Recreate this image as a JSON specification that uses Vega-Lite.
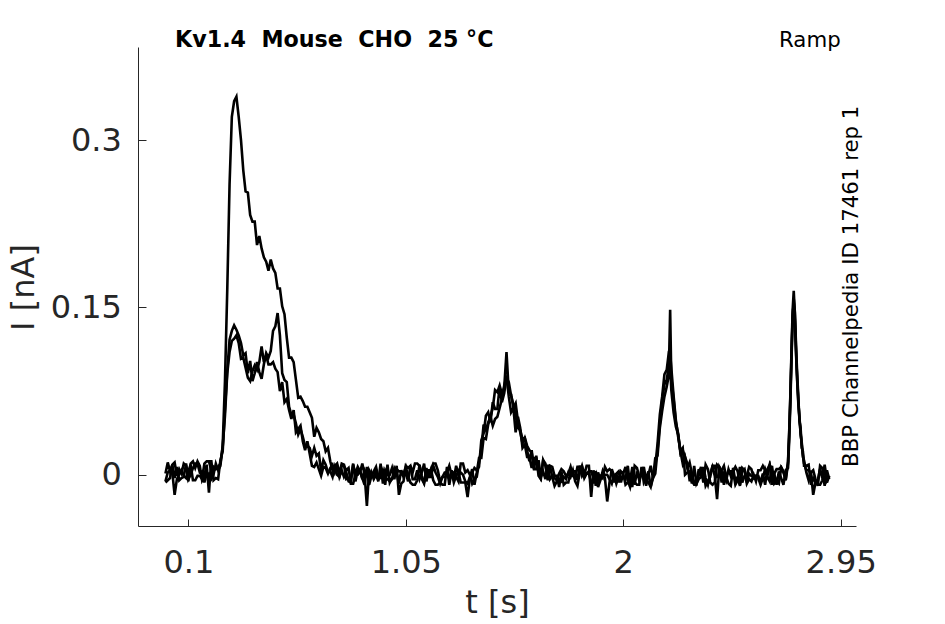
{
  "$schema": "https://vega.github.io/schema/vega-lite/v6.json",
  "width": 718,
  "height": 479,
  "autosize": "none",
  "padding": {"left": 138, "top": 47, "right": 89, "bottom": 98},
  "background": "#ffffff",
  "config": {
    "view": {"stroke": null},
    "font": "DejaVu Sans",
    "axis": {
      "grid": false,
      "domainColor": "#262626",
      "domainWidth": 1,
      "tickColor": "#262626",
      "tickWidth": 1,
      "labelColor": "#262626",
      "titleColor": "#262626",
      "labelFont": "DejaVu Sans",
      "titleFont": "DejaVu Sans",
      "labelFontSize": 32,
      "titleFontSize": 32,
      "titleFontWeight": "normal",
      "labelFlush": false,
      "labelOverlap": false,
      "labelBound": false
    },
    "axisX": {"tickSize": -7, "labelPadding": 28, "titleBaseline": "alphabetic", "titleY": 86},
    "axisY": {"tickSize": -8, "labelPadding": 24.6, "titleAngle": 270, "titleBaseline": "alphabetic", "titleAlign": "center", "titleX": -105, "titleY": 240}
  },
  "layer": [
    {
      "data": {"values": [
        {"t":0,"a":-0.006,"b":0.001,"c":-0.007},
        {"t":0.01,"a":0.002,"b":0.011,"c":-0.005},
        {"t":0.02,"a":0.004,"b":0.003,"c":-0.003},
        {"t":0.03,"a":0.002,"b":0.009,"c":0.009},
        {"t":0.04,"a":-0.018,"b":0.011,"c":-0.003},
        {"t":0.05,"a":-0.004,"b":-0.001,"c":0.007},
        {"t":0.06,"a":0,"b":0.005,"c":-0.005},
        {"t":0.07,"a":0.004,"b":0.001,"c":-0.003},
        {"t":0.08,"a":-0.001,"b":0.010,"c":-0.002},
        {"t":0.09,"a":-0.003,"b":0.008,"c":0.010},
        {"t":0.1,"a":0.003,"b":-0.006,"c":-0.004},
        {"t":0.11,"a":0.009,"b":0.010,"c":0},
        {"t":0.12,"a":-0.005,"b":0.012,"c":0.006},
        {"t":0.13,"a":-0.005,"b":0.006,"c":0.010},
        {"t":0.14,"a":-0.001,"b":0.012,"c":0.010},
        {"t":0.15,"a":-0.001,"b":0.008,"c":0.002},
        {"t":0.16,"a":-0.004,"b":-0.005,"c":0.003},
        {"t":0.17,"a":0.010,"b":-0.001,"c":-0.007},
        {"t":0.18,"a":0.012,"b":0.009,"c":0.001},
        {"t":0.19,"a":0.012,"b":-0.016,"c":0.001},
        {"t":0.2,"a":0.004,"b":0.013,"c":-0.003},
        {"t":0.21,"a":0,"b":-0.005,"c":0.007},
        {"t":0.22,"a":0.010,"b":-0.003,"c":0.005},
        {"t":0.23,"a":0.004,"b":-0.004,"c":0.007},
        {"t":0.24,"a":0.008,"b":0.013,"c":0.010},
        {"t":0.25,"a":0.026,"b":0.021,"c":0.025},
        {"t":0.26,"a":0.084,"b":0.059,"c":0.053},
        {"t":0.27,"a":0.166,"b":0.093,"c":0.091},
        {"t":0.28,"a":0.260,"b":0.121,"c":0.110},
        {"t":0.29,"a":0.321,"b":0.129,"c":0.120},
        {"t":0.3,"a":0.335,"b":0.134,"c":0.122},
        {"t":0.31,"a":0.339,"b":0.130,"c":0.125},
        {"t":0.32,"a":0.321,"b":0.125,"c":0.118},
        {"t":0.33,"a":0.300,"b":0.118,"c":0.104},
        {"t":0.34,"a":0.273,"b":0.107,"c":0.105},
        {"t":0.35,"a":0.254,"b":0.109,"c":0.096},
        {"t":0.36,"a":0.253,"b":0.091,"c":0.087},
        {"t":0.37,"a":0.233,"b":0.102,"c":0.084},
        {"t":0.38,"a":0.227,"b":0.084,"c":0.093},
        {"t":0.39,"a":0.227,"b":0.091,"c":0.098},
        {"t":0.4,"a":0.206,"b":0.101,"c":0.094},
        {"t":0.41,"a":0.214,"b":0.092,"c":0.101},
        {"t":0.42,"a":0.203,"b":0.086,"c":0.115},
        {"t":0.43,"a":0.195,"b":0.099,"c":0.101},
        {"t":0.44,"a":0.191,"b":0.109,"c":0.107},
        {"t":0.45,"a":0.183,"b":0.105,"c":0.099},
        {"t":0.46,"a":0.193,"b":0.111,"c":0.099},
        {"t":0.47,"a":0.185,"b":0.129,"c":0.101},
        {"t":0.48,"a":0.181,"b":0.133,"c":0.095},
        {"t":0.49,"a":0.167,"b":0.145,"c":0.092},
        {"t":0.5,"a":0.167,"b":0.125,"c":0.075},
        {"t":0.51,"a":0.151,"b":0.091,"c":0.083},
        {"t":0.52,"a":0.144,"b":0.085,"c":0.065},
        {"t":0.53,"a":0.123,"b":0.083,"c":0.068},
        {"t":0.54,"a":0.105,"b":0.061,"c":0.058},
        {"t":0.55,"a":0.105,"b":0.054,"c":0.050},
        {"t":0.56,"a":0.101,"b":0.054,"c":0.058},
        {"t":0.57,"a":0.085,"b":0.046,"c":0.038},
        {"t":0.58,"a":0.069,"b":0.036,"c":0.041},
        {"t":0.59,"a":0.070,"b":0.041,"c":0.044},
        {"t":0.6,"a":0.066,"b":0.034,"c":0.030},
        {"t":0.61,"a":0.061,"b":0.026,"c":0.022},
        {"t":0.62,"a":0.061,"b":0.026,"c":0.030},
        {"t":0.63,"a":0.056,"b":0.024,"c":0.019},
        {"t":0.64,"a":0.051,"b":0.017,"c":0.008},
        {"t":0.65,"a":0.034,"b":0.024,"c":0.007},
        {"t":0.66,"a":0.042,"b":0.017,"c":0.011},
        {"t":0.67,"a":0.038,"b":0.019,"c":0.005},
        {"t":0.68,"a":0.032,"b":0.003,"c":-0.001},
        {"t":0.69,"a":0.030,"b":0.013,"c":0.007},
        {"t":0.7,"a":0.021,"b":0.009,"c":0.006},
        {"t":0.71,"a":0.024,"b":0.002,"c":0.001},
        {"t":0.72,"a":0.012,"b":0.003,"c":0.006},
        {"t":0.73,"a":0.004,"b":-0.002,"c":0.009},
        {"t":0.74,"a":0.008,"b":0.007,"c":0.002},
        {"t":0.75,"a":0.010,"b":0,"c":0.008},
        {"t":0.76,"a":0.001,"b":-0.002,"c":-0.002},
        {"t":0.77,"a":0.010,"b":0.008,"c":0.004},
        {"t":0.78,"a":0.009,"b":0.008,"c":-0.002},
        {"t":0.79,"a":-0.004,"b":0.004,"c":0.002},
        {"t":0.8,"a":-0.003,"b":0.006,"c":-0.006},
        {"t":0.81,"a":-0.004,"b":-0.008,"c":-0.007},
        {"t":0.82,"a":0.010,"b":-0.008,"c":0.009},
        {"t":0.83,"a":-0.006,"b":0,"c":0.001},
        {"t":0.84,"a":0.004,"b":0,"c":0.007},
        {"t":0.85,"a":0.002,"b":0.004,"c":0.003},
        {"t":0.86,"a":0.010,"b":-0.004,"c":-0.003},
        {"t":0.87,"a":0,"b":0.004,"c":-0.009},
        {"t":0.88,"a":-0.028,"b":0,"c":0.007},
        {"t":0.89,"a":0.004,"b":-0.006,"c":-0.009},
        {"t":0.9,"a":0,"b":0.002,"c":-0.001},
        {"t":0.91,"a":-0.002,"b":-0.004,"c":0.003},
        {"t":0.92,"a":0.004,"b":0,"c":0.007},
        {"t":0.93,"a":-0.004,"b":-0.006,"c":-0.003},
        {"t":0.94,"a":-0.002,"b":0.010,"c":-0.003},
        {"t":0.95,"a":0.004,"b":-0.008,"c":0.005},
        {"t":0.96,"a":-0.004,"b":0.004,"c":-0.009},
        {"t":0.97,"a":-0.004,"b":0,"c":0.009},
        {"t":0.98,"a":-0.006,"b":0,"c":-0.007},
        {"t":0.99,"a":-0.004,"b":0.006,"c":-0.003},
        {"t":1,"a":0.006,"b":-0.004,"c":-0.001},
        {"t":1.01,"a":0.002,"b":0.008,"c":0.005},
        {"t":1.02,"a":-0.008,"b":-0.018,"c":0.003},
        {"t":1.03,"a":0.004,"b":-0.008,"c":0.003},
        {"t":1.04,"a":-0.002,"b":-0.006,"c":0.001},
        {"t":1.05,"a":0.002,"b":0.008,"c":0.007},
        {"t":1.06,"a":-0.006,"b":0.006,"c":-0.001},
        {"t":1.07,"a":0.008,"b":0.008,"c":-0.007},
        {"t":1.08,"a":0.002,"b":-0.004,"c":-0.009},
        {"t":1.09,"a":0.010,"b":-0.004,"c":-0.009},
        {"t":1.1,"a":0.010,"b":0.004,"c":-0.005},
        {"t":1.11,"a":0.008,"b":-0.004,"c":0.009},
        {"t":1.12,"a":-0.004,"b":0.002,"c":-0.001},
        {"t":1.13,"a":-0.008,"b":0.010,"c":-0.007},
        {"t":1.14,"a":0.006,"b":-0.006,"c":0.001},
        {"t":1.15,"a":-0.002,"b":0.004,"c":-0.001},
        {"t":1.16,"a":-0.002,"b":0.004,"c":0.005},
        {"t":1.17,"a":0.008,"b":0.010,"c":-0.005},
        {"t":1.18,"a":0.002,"b":0.010,"c":-0.009},
        {"t":1.19,"a":-0.002,"b":0.004,"c":-0.009},
        {"t":1.2,"a":-0.008,"b":-0.006,"c":-0.007},
        {"t":1.21,"a":-0.002,"b":-0.002,"c":-0.009},
        {"t":1.22,"a":0.002,"b":-0.002,"c":-0.009},
        {"t":1.23,"a":0.002,"b":0,"c":0.007},
        {"t":1.24,"a":0.008,"b":-0.004,"c":-0.009},
        {"t":1.25,"a":0,"b":0.004,"c":0.003},
        {"t":1.26,"a":0.002,"b":-0.004,"c":-0.007},
        {"t":1.27,"a":-0.002,"b":0.008,"c":-0.001},
        {"t":1.28,"a":-0.006,"b":0,"c":0.003},
        {"t":1.29,"a":0.010,"b":0.002,"c":-0.007},
        {"t":1.3,"a":0.010,"b":0,"c":-0.007},
        {"t":1.31,"a":0.002,"b":-0.006,"c":-0.007},
        {"t":1.32,"a":0.004,"b":-0.008,"c":-0.020},
        {"t":1.33,"a":0,"b":-0.002,"c":-0.003},
        {"t":1.34,"a":-0.008,"b":0.002,"c":0.005},
        {"t":1.35,"a":-0.004,"b":0.006,"c":-0.009},
        {"t":1.36,"a":-0.002,"b":0.004,"c":0.002},
        {"t":1.37,"a":0.011,"b":0.007,"c":0.015},
        {"t":1.38,"a":0.023,"b":0.031,"c":0.015},
        {"t":1.39,"a":0.045,"b":0.037,"c":0.033},
        {"t":1.4,"a":0.040,"b":0.053,"c":0.032},
        {"t":1.41,"a":0.047,"b":0.056,"c":0.045},
        {"t":1.42,"a":0.052,"b":0.047,"c":0.052},
        {"t":1.43,"a":0.060,"b":0.065,"c":0.044},
        {"t":1.44,"a":0.076,"b":0.059,"c":0.050},
        {"t":1.45,"a":0.074,"b":0.059,"c":0.052},
        {"t":1.46,"a":0.080,"b":0.079,"c":0.060},
        {"t":1.47,"a":0.072,"b":0.065,"c":0.068},
        {"t":1.48,"a":0.078,"b":0.073,"c":0.080},
        {"t":1.49,"a":0.110,"b":0.087,"c":0.088},
        {"t":1.5,"a":0.074,"b":0.083,"c":0.070},
        {"t":1.51,"a":0.072,"b":0.071,"c":0.056},
        {"t":1.52,"a":0.060,"b":0.063,"c":0.060},
        {"t":1.53,"a":0.064,"b":0.053,"c":0.038},
        {"t":1.54,"a":0.048,"b":0.042,"c":0.052},
        {"t":1.55,"a":0.038,"b":0.040,"c":0.042},
        {"t":1.56,"a":0.028,"b":0.032,"c":0.024},
        {"t":1.57,"a":0.033,"b":0.033,"c":0.027},
        {"t":1.58,"a":0.026,"b":0.022,"c":0.016},
        {"t":1.59,"a":0.022,"b":0.012,"c":0.016},
        {"t":1.6,"a":0.020,"b":0.022,"c":0.006},
        {"t":1.61,"a":0.005,"b":0.005,"c":0.015},
        {"t":1.62,"a":0.017,"b":0.005,"c":0.015},
        {"t":1.63,"a":-0.001,"b":0.013,"c":0.003},
        {"t":1.64,"a":-0.004,"b":-0.002,"c":-0.002},
        {"t":1.65,"a":0.013,"b":0.003,"c":0.013},
        {"t":1.66,"a":0.008,"b":-0.004,"c":0.010},
        {"t":1.67,"a":-0.003,"b":0.009,"c":-0.005},
        {"t":1.68,"a":0.008,"b":-0.004,"c":0.008},
        {"t":1.69,"a":-0.002,"b":-0.001,"c":0.007},
        {"t":1.7,"a":-0.010,"b":-0.003,"c":-0.001},
        {"t":1.71,"a":-0.006,"b":-0.005,"c":-0.001},
        {"t":1.72,"a":-0.004,"b":0.001,"c":-0.011},
        {"t":1.73,"a":-0.006,"b":0.005,"c":0.003},
        {"t":1.74,"a":-0.002,"b":0.003,"c":-0.009},
        {"t":1.75,"a":-0.004,"b":-0.001,"c":-0.007},
        {"t":1.76,"a":0.002,"b":0.001,"c":-0.007},
        {"t":1.77,"a":-0.002,"b":0.007,"c":0.003},
        {"t":1.78,"a":0.004,"b":-0.001,"c":0.003},
        {"t":1.79,"a":-0.006,"b":-0.003,"c":0.003},
        {"t":1.8,"a":-0.010,"b":0.007,"c":-0.005},
        {"t":1.81,"a":0.002,"b":0.007,"c":0.007},
        {"t":1.82,"a":0.008,"b":-0.001,"c":0.007},
        {"t":1.83,"a":0,"b":0.003,"c":-0.003},
        {"t":1.84,"a":0.008,"b":0.001,"c":0.001},
        {"t":1.85,"a":0.008,"b":0.001,"c":0.003},
        {"t":1.86,"a":-0.020,"b":-0.007,"c":0.003},
        {"t":1.87,"a":0.004,"b":-0.007,"c":-0.003},
        {"t":1.88,"a":-0.010,"b":0.003,"c":0.001},
        {"t":1.89,"a":0.002,"b":-0.005,"c":-0.011},
        {"t":1.9,"a":-0.004,"b":-0.001,"c":-0.005},
        {"t":1.91,"a":0,"b":-0.003,"c":0.003},
        {"t":1.92,"a":0,"b":0.007,"c":-0.003},
        {"t":1.93,"a":0,"b":0.003,"c":-0.024},
        {"t":1.94,"a":-0.004,"b":0.005,"c":-0.007},
        {"t":1.95,"a":-0.008,"b":0.003,"c":0.005},
        {"t":1.96,"a":0,"b":-0.007,"c":-0.001},
        {"t":1.97,"a":-0.008,"b":0.001,"c":0.001},
        {"t":1.98,"a":-0.002,"b":-0.007,"c":0.003},
        {"t":1.99,"a":-0.002,"b":0.003,"c":-0.007},
        {"t":2,"a":-0.002,"b":0.001,"c":0.001},
        {"t":2.01,"a":-0.004,"b":0.007,"c":-0.009},
        {"t":2.02,"a":0.008,"b":-0.005,"c":-0.007},
        {"t":2.03,"a":-0.010,"b":-0.011,"c":-0.005},
        {"t":2.04,"a":-0.010,"b":-0.001,"c":0.007},
        {"t":2.05,"a":0.008,"b":-0.007,"c":-0.009},
        {"t":2.06,"a":0.006,"b":-0.009,"c":0.003},
        {"t":2.07,"a":-0.002,"b":-0.009,"c":-0.005},
        {"t":2.08,"a":0,"b":0.007,"c":0.001},
        {"t":2.09,"a":0.002,"b":-0.007,"c":0.007},
        {"t":2.1,"a":-0.010,"b":-0.003,"c":-0.005},
        {"t":2.11,"a":0,"b":0.003,"c":-0.007},
        {"t":2.12,"a":0.008,"b":-0.011,"c":-0.011},
        {"t":2.13,"a":-0.003,"b":-0.003,"c":-0.001},
        {"t":2.14,"a":0.001,"b":0.015,"c":0.007},
        {"t":2.15,"a":0.022,"b":0.017,"c":0.028},
        {"t":2.16,"a":0.046,"b":0.042,"c":0.054},
        {"t":2.17,"a":0.067,"b":0.057,"c":0.070},
        {"t":2.18,"a":0.081,"b":0.070,"c":0.090},
        {"t":2.19,"a":0.085,"b":0.079,"c":0.094},
        {"t":2.2,"a":0.099,"b":0.090,"c":0.111},
        {"t":2.205,"a":0.148,"b":0.100,"c":0.108},
        {"t":2.21,"a":0.087,"b":0.076,"c":0.096},
        {"t":2.22,"a":0.068,"b":0.056,"c":0.071},
        {"t":2.23,"a":0.047,"b":0.043,"c":0.049},
        {"t":2.24,"a":0.037,"b":0.036,"c":0.034},
        {"t":2.25,"a":0.019,"b":0.021,"c":0.021},
        {"t":2.26,"a":0.022,"b":0.010,"c":0.024},
        {"t":2.27,"a":0.016,"b":0.016,"c":0},
        {"t":2.28,"a":0.010,"b":0.006,"c":0.002},
        {"t":2.29,"a":-0.005,"b":0.011,"c":0.003},
        {"t":2.3,"a":-0.005,"b":0.001,"c":-0.008},
        {"t":2.31,"a":-0.009,"b":-0.007,"c":0.008},
        {"t":2.32,"a":-0.009,"b":-0.007,"c":-0.008},
        {"t":2.33,"a":0.001,"b":0.005,"c":-0.004},
        {"t":2.34,"a":0.007,"b":-0.003,"c":-0.002},
        {"t":2.35,"a":-0.007,"b":0.007,"c":0.004},
        {"t":2.36,"a":0.009,"b":-0.003,"c":-0.010},
        {"t":2.37,"a":0.005,"b":-0.009,"c":-0.006},
        {"t":2.38,"a":-0.007,"b":0.001,"c":-0.002},
        {"t":2.39,"a":-0.009,"b":0.007,"c":0.008},
        {"t":2.4,"a":-0.007,"b":-0.001,"c":0.008},
        {"t":2.41,"a":0.009,"b":-0.022,"c":-0.002},
        {"t":2.42,"a":0.007,"b":0.007,"c":-0.002},
        {"t":2.43,"a":-0.007,"b":0.003,"c":0.004},
        {"t":2.44,"a":0.001,"b":-0.009,"c":0.008},
        {"t":2.45,"a":-0.005,"b":-0.001,"c":-0.002},
        {"t":2.46,"a":0.005,"b":0.003,"c":-0.008},
        {"t":2.47,"a":-0.001,"b":0.003,"c":-0.010},
        {"t":2.48,"a":0.003,"b":0.003,"c":0.006},
        {"t":2.49,"a":-0.009,"b":0.007,"c":-0.006},
        {"t":2.5,"a":-0.005,"b":0.003,"c":-0.002},
        {"t":2.51,"a":0.007,"b":-0.009,"c":-0.010},
        {"t":2.52,"a":-0.007,"b":0.003,"c":0.006},
        {"t":2.53,"a":-0.001,"b":0.005,"c":0.004},
        {"t":2.54,"a":-0.001,"b":-0.007,"c":-0.008},
        {"t":2.55,"a":0.007,"b":0.001,"c":-0.004},
        {"t":2.56,"a":0.005,"b":-0.001,"c":-0.006},
        {"t":2.57,"a":-0.003,"b":-0.001,"c":0},
        {"t":2.58,"a":-0.001,"b":-0.001,"c":-0.006},
        {"t":2.59,"a":-0.001,"b":-0.003,"c":0.004},
        {"t":2.6,"a":-0.007,"b":-0.009,"c":0.004},
        {"t":2.61,"a":0.001,"b":-0.003,"c":0.008},
        {"t":2.62,"a":-0.009,"b":0.005,"c":0.004},
        {"t":2.63,"a":0.005,"b":-0.001,"c":-0.002},
        {"t":2.64,"a":0.009,"b":0.009,"c":-0.006},
        {"t":2.65,"a":-0.009,"b":0.003,"c":0.008},
        {"t":2.66,"a":0.001,"b":0.001,"c":-0.008},
        {"t":2.67,"a":0.005,"b":-0.009,"c":-0.006},
        {"t":2.68,"a":0.005,"b":0.003,"c":-0.008},
        {"t":2.69,"a":0.007,"b":-0.003,"c":0.006},
        {"t":2.7,"a":0.003,"b":-0.009,"c":0.002},
        {"t":2.71,"a":-0.004,"b":0.004,"c":-0.005},
        {"t":2.72,"a":0.012,"b":0.006,"c":0.010},
        {"t":2.725,"a":0.038,"b":0.030,"c":0.036},
        {"t":2.73,"a":0.070,"b":0.062,"c":0.068},
        {"t":2.735,"a":0.110,"b":0.102,"c":0.106},
        {"t":2.74,"a":0.147,"b":0.138,"c":0.142},
        {"t":2.745,"a":0.165,"b":0.158,"c":0.154},
        {"t":2.75,"a":0.143,"b":0.146,"c":0.138},
        {"t":2.755,"a":0.112,"b":0.116,"c":0.108},
        {"t":2.76,"a":0.084,"b":0.090,"c":0.086},
        {"t":2.765,"a":0.064,"b":0.070,"c":0.066},
        {"t":2.77,"a":0.052,"b":0.048,"c":0.050},
        {"t":2.775,"a":0.036,"b":0.042,"c":0.038},
        {"t":2.78,"a":0.029,"b":0.024,"c":0.027},
        {"t":2.785,"a":0.016,"b":0.021,"c":0.018},
        {"t":2.79,"a":0.013,"b":0.008,"c":0.010},
        {"t":2.8,"a":0.002,"b":0.008,"c":0.004},
        {"t":2.81,"a":-0.005,"b":0.009,"c":0.004},
        {"t":2.82,"a":0.003,"b":-0.009,"c":0.002},
        {"t":2.83,"a":-0.018,"b":-0.003,"c":0.004},
        {"t":2.84,"a":-0.007,"b":-0.007,"c":-0.004},
        {"t":2.85,"a":-0.005,"b":-0.009,"c":-0.010},
        {"t":2.86,"a":0.005,"b":-0.009,"c":0.008},
        {"t":2.87,"a":-0.003,"b":-0.005,"c":0.006},
        {"t":2.88,"a":0.005,"b":0.009,"c":-0.010},
        {"t":2.89,"a":-0.007,"b":-0.005,"c":0.004},
        {"t":2.9,"a":-0.001,"b":-0.001,"c":-0.004}
      ]},
      "transform": [{"fold": ["a", "b", "c"], "as": ["rep", "i"]}],
      "mark": {"type": "line", "color": "#000000", "strokeWidth": 2.6, "strokeJoin": "miter"},
      "encoding": {
        "x": {
          "field": "t", "type": "quantitative",
          "scale": {"domain": [-0.12, 3.017], "nice": false, "zero": false},
          "axis": {"title": "t [s]", "values": [0.1, 1.05, 2, 2.95], "format": ".3~g"}
        },
        "y": {
          "field": "i", "type": "quantitative",
          "scale": {"domain": [-0.046, 0.3836], "nice": false, "zero": false},
          "axis": {"title": "I [nA]", "values": [0, 0.15, 0.3], "format": ".3~g"}
        },
        "detail": {"field": "rep", "type": "nominal"}
      }
    },
    {
      "data": {"values": [{}]},
      "mark": {"type": "text", "text": "Kv1.4\u00a0 Mouse\u00a0 CHO\u00a0 25 °C", "align": "left", "baseline": "alphabetic", "font": "DejaVu Sans", "fontSize": 22.2, "fontWeight": "bold", "color": "#000000"},
      "encoding": {
        "x": {"datum": 0.042, "type": "quantitative", "scale": {"domain": [-0.12, 3.017], "nice": false, "zero": false}},
        "y": {"datum": 0.3836, "type": "quantitative", "scale": {"domain": [-0.046, 0.3836], "nice": false, "zero": false}}
      }
    },
    {
      "data": {"values": [{}]},
      "mark": {"type": "text", "text": "Ramp", "align": "right", "baseline": "alphabetic", "font": "DejaVu Sans", "fontSize": 21.3, "color": "#000000"},
      "encoding": {
        "x": {"datum": 2.95, "type": "quantitative", "scale": {"domain": [-0.12, 3.017], "nice": false, "zero": false}},
        "y": {"datum": 0.3836, "type": "quantitative", "scale": {"domain": [-0.046, 0.3836], "nice": false, "zero": false}}
      }
    },
    {
      "data": {"values": [{}]},
      "mark": {"type": "text", "text": "BBP Channelpedia ID 17461 rep 1", "angle": 270, "align": "center", "baseline": "alphabetic", "dy": 1.5, "font": "DejaVu Sans", "fontSize": 21.3, "color": "#000000"},
      "encoding": {
        "x": {"datum": 3.017, "type": "quantitative", "scale": {"domain": [-0.12, 3.017], "nice": false, "zero": false}},
        "y": {"datum": 0.169, "type": "quantitative", "scale": {"domain": [-0.046, 0.3836], "nice": false, "zero": false}}
      }
    }
  ]
}
